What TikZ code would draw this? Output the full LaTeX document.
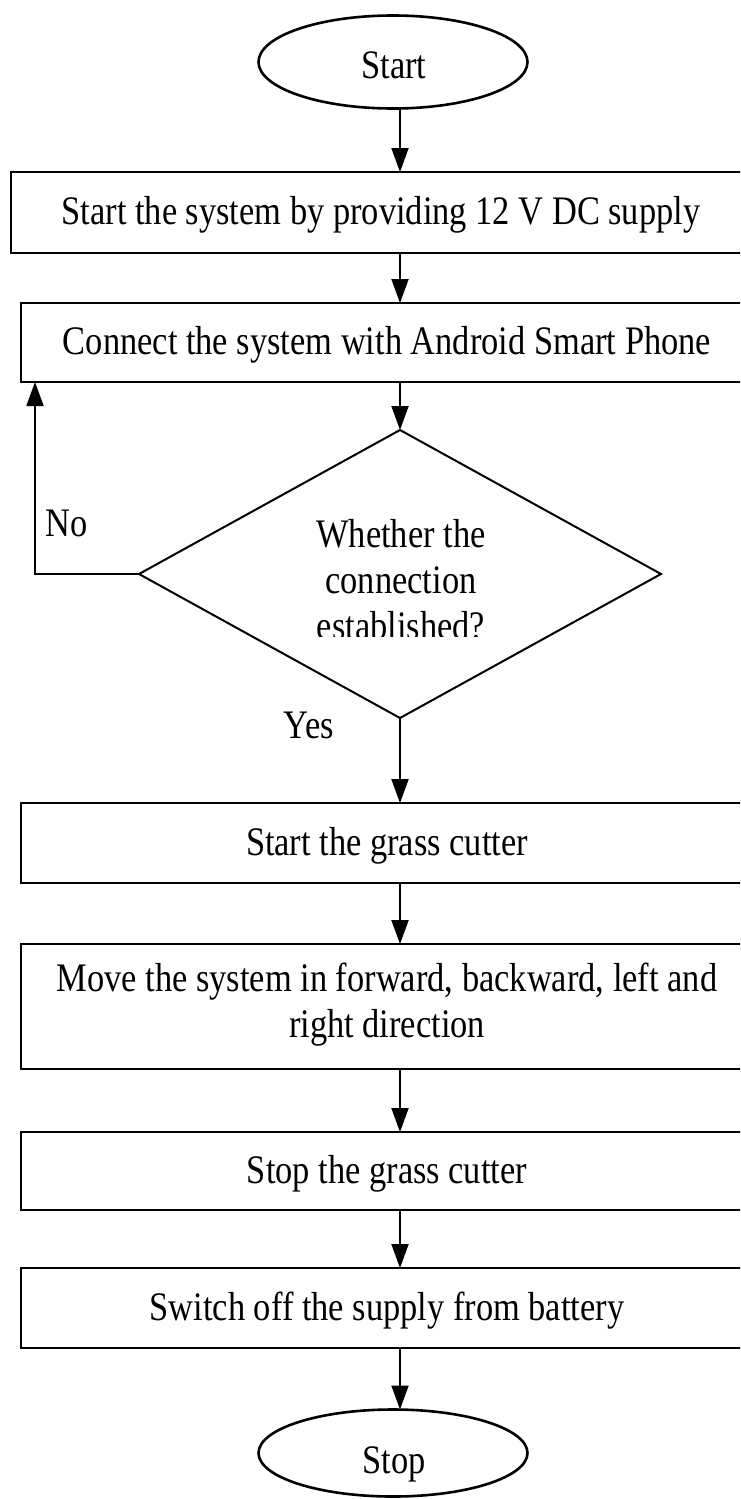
\documentclass[tikz,border=0pt]{standalone}
\usepackage{fontspec}
\setmainfont{Liberation Serif}[FakeStretch=0.85]
\usetikzlibrary{shapes.geometric,arrows.meta,calc}
\begin{document}
\begin{tikzpicture}[x=1pt,y=-1pt,
  font=\fontsize{40.5}{46}\selectfont,
  every node/.style={inner sep=0pt, outer sep=0pt},
  terminal/.style={ellipse, draw, line width=2.6pt, minimum width=269pt, minimum height=93pt},
  process/.style={rectangle, draw, line width=2.6pt, minimum width=732pt, align=center},
  oneline/.style={text height=30pt, text depth=6pt},
  decision/.style={diamond, draw, line width=2pt, minimum width=522pt, minimum height=288pt},
  flow/.style={line width=2pt, -{Triangle[length=24pt,width=17pt]}},
]
\useasboundingbox (0,0) rectangle (740,1499);
\clip (0,0) rectangle (740,1499);

% terminals
\node[terminal] (start) at (393,62) {};
\node (starttxt) at (394,65.5) {Start};
\node[terminal, minimum height=87pt] (stop) at (393,1453) {};
\node (stoptxt) at (394,1464) {Stop};

% process steps
\node[process, oneline, minimum width=740pt, minimum height=81pt] (b1) at (381,212.5)
  {Start the system by providing 12 V DC supply};
\node[process, oneline, minimum height=79pt] (b2) at (387,342.5)
  {Connect the system with Android Smart Phone};
\node[process, oneline, minimum height=80pt] (b3) at (387,843) {Start the grass cutter};
\node[process, minimum height=125pt] (b4) at (387,1006.5) {};
\node (b4txt) at (387,1005) [align=center]
  {Move the system in forward, backward, left and\\right direction};
\node[process, oneline, minimum height=78pt] (b5) at (387,1171) {Stop the grass cutter};
\node[process, oneline, minimum height=80pt] (b6) at (387,1308) {Switch off the supply from battery};

% decision
\node[decision] (dec) at (400,574) {};
\begin{scope}
  \clip (250,500) rectangle (560,636);
  \node[align=center] (dtext) at (401,580) {Whether the\\connection\\established?};
\end{scope}

% branch labels
\node (no) at (67,523.5) {No};
\node (yes) at (309,725) {Yes};

% guide columns for the connectors
\coordinate (spine) at (400,0);
\coordinate (loop) at (35,0);

% connectors
\draw[flow] (start.south -| spine) -- (b1.north -| spine);
\draw[flow] (b1.south -| spine) -- (b2.north -| spine);
\draw[flow] (b2.south -| spine) -- (dec.north);
\draw[flow] (dec.west) -- (dec.west -| loop) -- (b2.south -| loop);
\draw[flow] (dec.south) -- (dec.south |- b3.north);
\draw[flow] (b3.south -| spine) -- (b4.north -| spine);
\draw[flow] (b4.south -| spine) -- (b5.north -| spine);
\draw[flow] (b5.south -| spine) -- (b6.north -| spine);
\draw[flow] (b6.south -| spine) -- (stop.north -| spine);
\end{tikzpicture}
\end{document}
